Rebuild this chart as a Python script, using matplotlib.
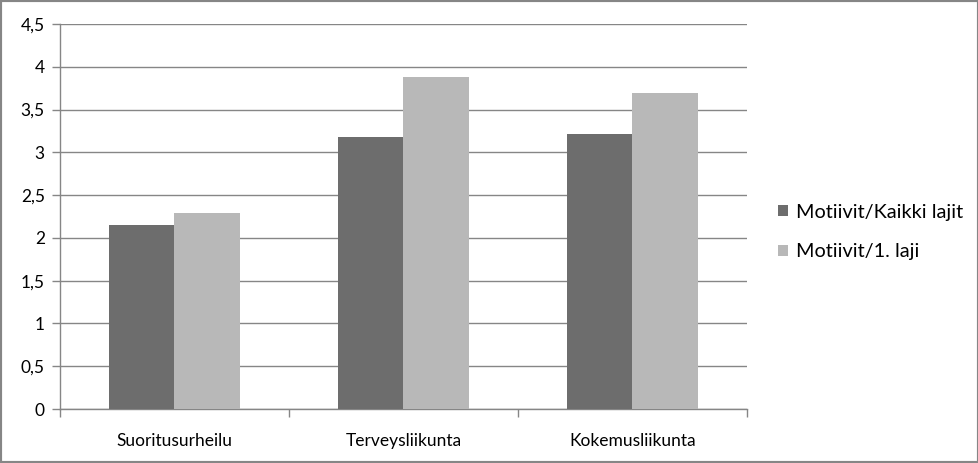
import matplotlib
matplotlib.use("Agg")
import matplotlib.pyplot as plt
import numpy as np
from matplotlib.patches import Rectangle

categories = ["Suoritusurheilu", "Terveysliikunta", "Kokemusliikunta"]
series_names = ["Motiivit/Kaikki lajit", "Motiivit/1. laji"]
kaikki = [2.15, 3.18, 3.22]
eka = [2.29, 3.88, 3.69]
yticks = [0, 0.5, 1, 1.5, 2, 2.5, 3, 3.5, 4, 4.5]
ytick_labels = ["0", "0,5", "1", "1,5", "2", "2,5", "3", "3,5", "4", "4,5"]

plt.rcParams['font.family'] = ['Lato', 'DejaVu Sans']

W, H = 979, 463
fig = plt.figure(figsize=(W/100, H/100), dpi=100)
fig.patches.append(Rectangle((0, 0), 1, 1, transform=fig.transFigure, fill=False,
                             edgecolor="#868686", linewidth=3))

ax = fig.add_axes([60/W, 1-409/H, (747-60)/W, (409-24)/H])
x = np.arange(len(categories))
bw = 1/3.5
c1, c2 = "#6d6d6d", "#b8b8b8"
ax.bar(x - bw/2, kaikki, bw, color=c1, label=series_names[0], zorder=3)
ax.bar(x + bw/2, eka, bw, color=c2, label=series_names[1], zorder=3)

ax.set_xlim(-0.5, len(categories)-0.5)
ax.set_ylim(0, 4.5)
ax.set_yticks(yticks)
ax.set_yticklabels(ytick_labels, fontsize=12.5)
ax.yaxis.grid(True, color="#868686", linewidth=1, zorder=0)
ax.set_axisbelow(True)

ax.set_xticks(x)
ax.set_xticklabels(categories, fontsize=12.5)
ax.tick_params(axis='x', length=0, pad=17)
ax.set_xticks(np.arange(-0.5, len(categories), 1), minor=True)
ax.tick_params(axis='x', which='minor', length=6, color="#868686", width=1)
ax.tick_params(axis='y', length=6, color="#868686", width=1, pad=5)

for s in ["top", "right"]:
    ax.spines[s].set_visible(False)
for s in ["left", "bottom"]:
    ax.spines[s].set_color("#868686")
    ax.spines[s].set_linewidth(1)

leg = ax.legend(loc="center left", bbox_to_anchor=(760/W, 231/H), bbox_transform=fig.transFigure,
                frameon=False, fontsize=14.3, handlelength=0.5, handleheight=0.5,
                handletextpad=0.4, labelspacing=1.15)

fig.savefig("out.png", dpi=100)
